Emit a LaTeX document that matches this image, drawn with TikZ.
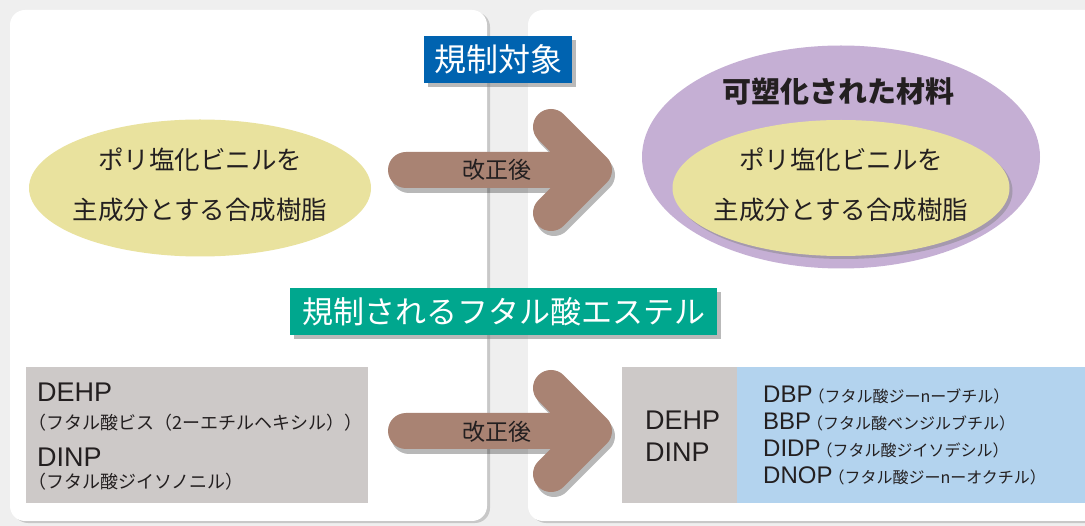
\documentclass[tikz,border=0pt]{standalone}
\usepackage{fontspec}
\setmainfont{Liberation Sans}
\newfontfamily\jp{Noto Sans CJK JP}
\usetikzlibrary{shapes.geometric,shadows,calc}
\definecolor{bgc}{HTML}{EFEFEF}
\definecolor{bluelab}{HTML}{0063B0}
\definecolor{greenlab}{HTML}{00A78E}
\definecolor{yel}{HTML}{E9E29E}
\definecolor{purp}{HTML}{C5AFD4}
\definecolor{greybox}{HTML}{CDC9C8}
\definecolor{lblue}{HTML}{B3D3EE}
\definecolor{arrc}{HTML}{A98373}
\definecolor{txt}{HTML}{231F20}
\newcommand\fsz[2]{\fontsize{#1pt}{#2pt}\selectfont}
\newcommand\jpp[1]{\hspace{-4pt}{\jp\fsz{16}{20}#1}}
\begin{document}
\begin{tikzpicture}[x=1pt,y=-1pt,
  panel/.style={rectangle, rounded corners=15pt, fill=white, draw=none,
    drop shadow={shadow xshift=3pt, shadow yshift=-2pt, opacity=0.35}},
  yell/.style={ellipse, fill=yel, draw=none, inner sep=0pt},
  purpell/.style={ellipse, fill=purp, draw=none, inner sep=0pt},
  jptext/.style={font=\jp\fsz{25.5}{50}, text=txt, align=center, inner sep=0pt},
  label/.style={rectangle, draw=none, text=white, inner sep=0pt, font=\jp\fsz{31}{36},
    drop shadow={shadow xshift=4pt, shadow yshift=-4pt, opacity=0.55}},
  boxs/.style={rectangle, draw=none, inner sep=0pt},
  arr/.style={line width=36pt, line cap=round, line join=round, draw=arrc},
  arrsh/.style={line width=36pt, line cap=round, line join=round, draw=black, opacity=0.28},
  arrlab/.style={font=\jp\fsz{23}{28}, text=txt, inner sep=0pt},
  code/.style={anchor=base west, inner sep=0pt, text=txt},
  jpsmall/.style={anchor=base west, inner sep=0pt, text=txt, font=\jp\fsz{18}{20}}
]
\useasboundingbox (0,0) rectangle (1085,526);
\fill[bgc] (0,0) rectangle (1085,526);

% panels
\node[panel, minimum width=477pt, minimum height=511pt] (P1) at (248.5,265.5) {};
\node[panel, minimum width=580pt, minimum height=511pt] (P2) at (818,265.5) {};

% top left ellipse
\node[yell, minimum width=342pt, minimum height=137pt] (L) at (200,188) {};
\node[jptext] (Lt) at (200,185) {ポリ塩化ビニルを\\主成分とする合成樹脂};

% right purple ellipse with inner yellow
\node[purpell, minimum width=398pt, minimum height=223pt] (R) at (841,157) {};
\node[font=\jp\bfseries\fsz{29}{34}, text=txt, inner sep=0pt] (Rt) at (838,91) {可塑化された材料};
\node[yell, minimum width=337pt, minimum height=136pt,
  drop shadow={shadow xshift=3pt, shadow yshift=-3pt, opacity=0.45}] (RY) at (841,188) {};
\node[jptext] (RYt) at (841,185) {ポリ塩化ビニルを\\主成分とする合成樹脂};

% labels
\node[label, fill=bluelab, minimum width=148pt, minimum height=47pt, font=\jp\fsz{32}{36}] (T1) at (498,59.5) {規制対象};
\node[label, fill=greenlab, minimum width=427pt, minimum height=47pt] (T2) at (503.5,311.5) {規制されるフタル酸エステル};

% arrows
\coordinate (a1s) at (406,170);
\coordinate (a1e) at (594,170);
\coordinate (a2s) at (406,431);
\coordinate (a2e) at (594,431);
\foreach \s/\e in {a1s/a1e, a2s/a2e}{
  \draw[arrsh] ([shift={(3,5)}]\s) -- ([shift={(3,5)}]\e)
     ($(\e)+(-40,-38)$) -- ([shift={(3,5)}]\e) -- ($(\e)+(-40,48)$);
  \draw[arr] (\s) -- (\e) ($(\e)+(-43,-43)$) -- (\e) -- ($(\e)+(-43,43)$);
}
\node[arrlab] (A1) at (497,170) {改正後};
\node[arrlab] (A2) at (497,432) {改正後};

% bottom left box
\node[boxs, fill=greybox, minimum width=342pt, minimum height=136pt] (BL) at (197,435) {};
\node[code, font=\fsz{27}{30}] (BL1) at (37,402) {DEHP};
\node[jpsmall] (BL2) at (28,429.5) {（フタル酸ビス（2ーエチルヘキシル））};
\node[code, font=\fsz{27}{30}] (BL3) at (37,467) {DINP};
\node[jpsmall] (BL4) at (28,489) {（フタル酸ジイソノニル）};

% bottom right boxes
\node[boxs, fill=greybox, minimum width=115pt, minimum height=136pt] (BR1) at (679.5,435) {};
\node[boxs, fill=lblue, minimum width=350pt, minimum height=136pt] (BR2) at (912,435) {};
\node[code, font=\fsz{27}{30}] (D1) at (645,430) {DEHP};
\node[code, font=\fsz{27}{30}] (D2) at (645,462) {DINP};

\node[code] (E1) at (763,403) {\fsz{24}{28}DBP\jpp{（フタル酸ジーnーブチル）}};
\node[code] (E2) at (763,430) {\fsz{24}{28}BBP\jpp{（フタル酸ベンジルブチル）}};
\node[code] (E3) at (763,457) {\fsz{24}{28}DIDP\jpp{（フタル酸ジイソデシル）}};
\node[code] (E4) at (763,484) {\fsz{24}{28}DNOP\jpp{（フタル酸ジーnーオクチル）}};
\end{tikzpicture}
\end{document}
